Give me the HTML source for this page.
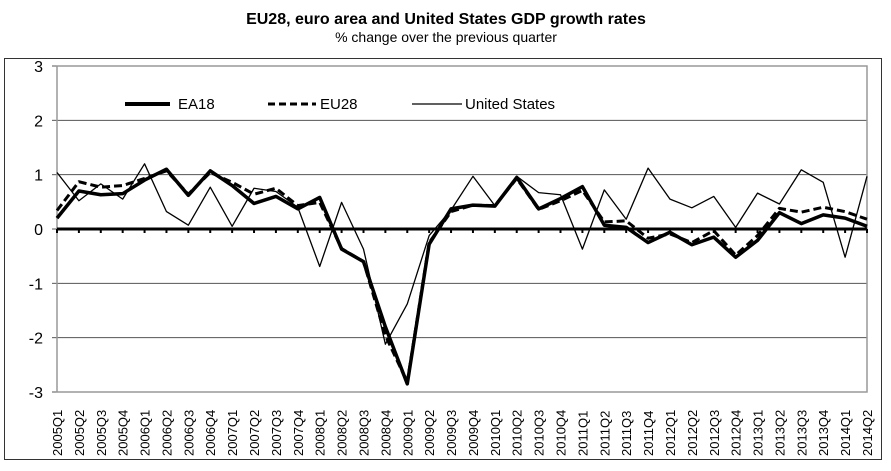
<!DOCTYPE html>
<html><head><meta charset="utf-8"><style>
body{margin:0;background:#fff;font-family:"Liberation Sans",sans-serif;}
svg text{font-family:"Liberation Sans",sans-serif;}
</style></head><body>
<svg id="c" width="891" height="466">
<text x="446" y="24" text-anchor="middle" font-size="16" font-weight="bold">EU28, euro area and United States GDP growth rates</text>
<text x="446" y="42" text-anchor="middle" font-size="14">% change over the previous quarter</text>
<rect x="4.5" y="58.5" width="877" height="401" fill="none" stroke="#333"/>
<g id="grid"></g><g id="series"></g><g id="labels"></g>
<g>
<line x1="125" y1="104" x2="170" y2="104" stroke="#000" stroke-width="4"/>
<text x="178" y="109" font-size="15">EA18</text>
<line x1="268" y1="104" x2="316" y2="104" stroke="#000" stroke-width="3" stroke-dasharray="7,4"/>
<text x="320" y="109" font-size="15">EU28</text>
<line x1="412" y1="104" x2="462" y2="104" stroke="#000" stroke-width="1.3"/>
<text x="465" y="109" font-size="15">United States</text>
</g>
</svg>
<script>
const categories=["2005Q1","2005Q2","2005Q3","2005Q4","2006Q1","2006Q2","2006Q3","2006Q4","2007Q1","2007Q2","2007Q3","2007Q4","2008Q1","2008Q2","2008Q3","2008Q4","2009Q1","2009Q2","2009Q3","2009Q4","2010Q1","2010Q2","2010Q3","2010Q4","2011Q1","2011Q2","2011Q3","2011Q4","2012Q1","2012Q2","2012Q3","2012Q4","2013Q1","2013Q2","2013Q3","2013Q4","2014Q1","2014Q2"];
const ea18=[0.2,0.7,0.63,0.65,0.9,1.1,0.62,1.07,0.8,0.47,0.6,0.37,0.58,-0.37,-0.6,-1.8,-2.85,-0.28,0.37,0.44,0.42,0.95,0.37,0.56,0.78,0.07,0.03,-0.25,-0.06,-0.29,-0.15,-0.52,-0.21,0.3,0.1,0.26,0.2,0.05];
const eu28=[0.34,0.87,0.77,0.8,0.93,1.07,0.64,1.04,0.86,0.64,0.75,0.43,0.49,-0.36,-0.6,-1.96,-2.82,-0.25,0.32,0.44,0.43,0.93,0.36,0.52,0.71,0.13,0.15,-0.17,-0.09,-0.25,-0.03,-0.48,-0.12,0.38,0.31,0.4,0.32,0.18];
const us=[1.04,0.52,0.83,0.55,1.2,0.32,0.07,0.77,0.05,0.75,0.69,0.4,-0.69,0.49,-0.37,-2.12,-1.38,-0.12,0.35,0.97,0.43,0.97,0.67,0.63,-0.37,0.72,0.18,1.12,0.55,0.39,0.6,0.03,0.66,0.46,1.09,0.86,-0.52,0.97];
const yTicks=[3,2,1,0,-1,-2,-3];
const NS="http://www.w3.org/2000/svg";
const x0=57,x1=867,yTop=66,yBot=392,yMax=3,yMin=-3;
const X=i=>x0+i*(x1-x0)/(categories.length-1);
const Y=v=>yTop+(yMax-v)*(yBot-yTop)/(yMax-yMin);
function mk(tag,attrs,parent){const e=document.createElementNS(NS,tag);for(const k in attrs)e.setAttribute(k,attrs[k]);document.getElementById(parent).appendChild(e);return e;}
yTicks.forEach(v=>{
  if(v!==0){const g=mk('line',{x1:x0,x2:x1,y1:Y(v),y2:Y(v),stroke:'#555','stroke-width':1},'grid');
  
  }
  const tk=mk('line',{x1:x0-5,x2:x0,y1:Y(v),y2:Y(v),stroke:'#555'},'grid');
  
  
  const t=mk('text',{x:x0-14,y:Y(v)+6,'text-anchor':'end','font-size':16},'labels');t.textContent=v;
  
  
});
const ax=mk('rect',{x:x0,y:yTop,width:x1-x0,height:yBot-yTop,fill:'none',stroke:'#999','stroke-width':1.5},'grid');


const z=mk('line',{x1:x0,x2:x1,y1:Y(0),y2:Y(0),stroke:'#000','stroke-width':3},'grid');


categories.forEach((c,i)=>{
  const tk=mk('line',{x1:X(i),x2:X(i),y1:Y(0),y2:Y(0)+4,stroke:'#000','stroke-width':2},'grid');
  
  
  const t=mk('text',{transform:`translate(${X(i)+5},456) rotate(-90)`,'font-size':13},'labels');t.textContent=c;
  
  
});
function line(vals,attrs,name){
  const p=mk('polyline',Object.assign({points:vals.map((v,i)=>X(i)+','+Y(v)).join(' '),fill:'none',stroke:'#000','stroke-linejoin':'round'},attrs),'series');
  
  
}
line(us,{'stroke-width':1.3},'us-line');
line(eu28,{'stroke-width':3,'stroke-dasharray':'8,4'},'eu28-line');
line(ea18,{'stroke-width':3.5},'ea18-line');
</script>
</body></html>
